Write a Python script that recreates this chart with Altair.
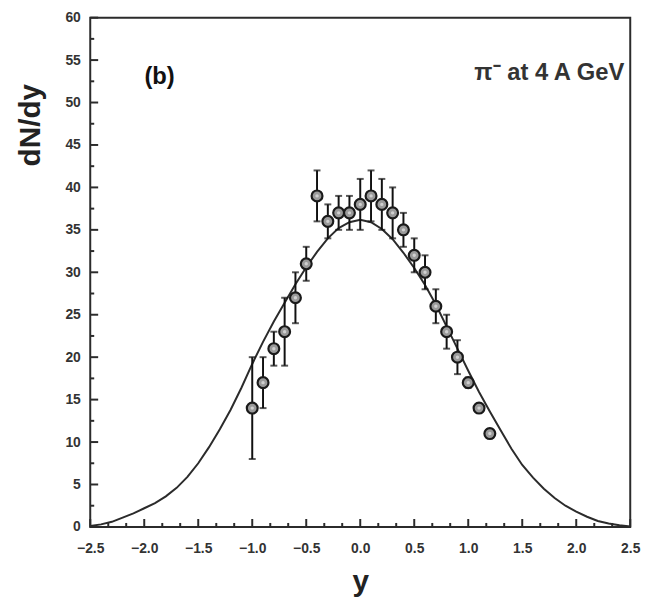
import altair as alt
import pandas as pd

# ---- data ----
data_x = [-1.0, -0.9, -0.8, -0.7, -0.6, -0.5, -0.4, -0.3, -0.2, -0.1, 0.0, 0.1,
          0.2, 0.3, 0.4, 0.5, 0.6, 0.7, 0.8, 0.9, 1.0, 1.1, 1.2]
data_y = [14, 17, 21, 23, 27, 31, 39, 36, 37, 37, 38, 39,
          38, 37, 35, 32, 30, 26, 23, 20, 17, 14, 11]
data_err = [6, 3, 2, 4, 3, 2, 3, 2, 2, 2, 3, 3,
            3, 3, 2, 2, 2, 2, 2, 2, 0.6, 0.5, 0.5]

curve_x = [-2.5, -2.4, -2.3, -2.2, -2.1, -2.0, -1.9, -1.8, -1.7, -1.6, -1.5, -1.4,
           -1.3, -1.2, -1.1, -1.0, -0.9, -0.8, -0.7, -0.6, -0.5, -0.4, -0.3, -0.2,
           -0.1, 0.0, 0.1, 0.2, 0.3, 0.4, 0.5, 0.6, 0.7, 0.8, 0.9, 1.0, 1.1, 1.2,
           1.3, 1.4, 1.5, 1.6, 1.7, 1.8, 1.9, 2.0, 2.1, 2.2, 2.3, 2.4, 2.5]
curve_y = [0.1, 0.3, 0.6, 1.1, 1.6, 2.2, 2.8, 3.6, 4.6, 5.9, 7.5, 9.4,
           11.5, 13.8, 16.4, 19.2, 21.8, 24.2, 26.4, 28.6, 30.6, 32.4, 34.0, 35.2,
           35.9, 36.2, 35.9, 35.1, 33.9, 32.3, 30.5, 28.5, 26.2, 23.6, 21.0, 18.4, 15.9, 13.6,
           11.4, 9.2, 7.3, 5.8, 4.5, 3.4, 2.5, 1.8, 1.2, 0.7, 0.4, 0.2, 0.05]

x_major = [-2.5, -2.0, -1.5, -1.0, -0.5, 0.0, 0.5, 1.0, 1.5, 2.0, 2.5]
x_minor = [-2.333, -2.167, -1.833, -1.667, -1.333, -1.167, -0.833, -0.667,
           -0.333, -0.167, 0.167, 0.333, 0.667, 0.833, 1.167, 1.333,
           1.667, 1.833, 2.167, 2.333]
y_major = [0, 5, 10, 15, 20, 25, 30, 35, 40, 45, 50, 55, 60]
y_minor = [2.5, 7.5, 12.5, 17.5, 22.5, 27.5, 32.5, 37.5, 42.5, 47.5, 52.5, 57.5]

label_b = "(b)"
label_title = "π⁻ at 4 A GeV"

W, H = 545, 514
INK = "#2b2b2b"
FONT = "Liberation Sans"
NARROW = "Liberation Sans Narrow, Liberation Sans"

pts = pd.DataFrame({"x": data_x, "y": data_y, "err": data_err})
pts["lo"] = pts["y"] - pts["err"]
pts["hi"] = pts["y"] + pts["err"]
curve = pd.DataFrame({"x": curve_x, "y": curve_y})

xs = alt.Scale(domain=[-2.5, 2.5], nice=False, zero=False)
ys = alt.Scale(domain=[0, 60], nice=False, zero=False)

xaxis = alt.Axis(values=x_major, format=".1f", ticks=False, domain=False, grid=False,
                 labelFont=NARROW, labelFontSize=14, labelFontWeight="bold", labelColor="#333",
                 labelPadding=15, title="y", titleFont=FONT, titleFontSize=30,
                 titleFontWeight="bold", titleColor="#222", titlePadding=11, labelFlush=False)
yaxis = alt.Axis(values=y_major, ticks=False, domain=False, grid=False,
                 labelFont=NARROW, labelFontSize=14, labelFontWeight="bold", labelColor="#333",
                 labelPadding=10, title="dN/dy", titleFont=FONT, titleFontSize=30,
                 titleFontWeight="bold", titleColor="#222", titlePadding=20, titleY=108)

line = alt.Chart(curve).mark_line(color=INK, strokeWidth=2).encode(
    x=alt.X("x:Q", scale=xs, axis=xaxis),
    y=alt.Y("y:Q", scale=ys, axis=yaxis),
)

bars = alt.Chart(pts).mark_rule(color="#111", strokeWidth=2).encode(
    x=alt.X("x:Q", scale=xs), y=alt.Y("lo:Q", scale=ys), y2="hi:Q")
cap_lo = alt.Chart(pts).mark_tick(color="#111", thickness=2, size=7, orient="horizontal").encode(
    x=alt.X("x:Q", scale=xs), y=alt.Y("lo:Q", scale=ys))
cap_hi = alt.Chart(pts).mark_tick(color="#111", thickness=2, size=7, orient="horizontal").encode(
    x=alt.X("x:Q", scale=xs), y=alt.Y("hi:Q", scale=ys))

points = alt.Chart(pts).mark_point(shape="circle", filled=False, fill="#9a9a9a", fillOpacity=1,
                                   stroke="#1a1a1a", strokeWidth=2.2, size=120, opacity=1).encode(
    x=alt.X("x:Q", scale=xs), y=alt.Y("y:Q", scale=ys))
centers = alt.Chart(pts).mark_point(shape="circle", filled=True, color="#d0d0d0", size=12,
                                    opacity=1).encode(
    x=alt.X("x:Q", scale=xs), y=alt.Y("y:Q", scale=ys))

xt_major = alt.Chart(pd.DataFrame({"t": x_major})).mark_rule(color=INK, strokeWidth=2).encode(
    x=alt.X("t:Q", scale=xs), y=alt.value(H), y2=alt.value(H - 8))
xt_minor = alt.Chart(pd.DataFrame({"t": x_minor})).mark_rule(color=INK, strokeWidth=2).encode(
    x=alt.X("t:Q", scale=xs), y=alt.value(H), y2=alt.value(H - 4))
yt_major = alt.Chart(pd.DataFrame({"t": y_major})).mark_rule(color=INK, strokeWidth=2).encode(
    y=alt.Y("t:Q", scale=ys), x=alt.value(0), x2=alt.value(8))
yt_minor = alt.Chart(pd.DataFrame({"t": y_minor})).mark_rule(color=INK, strokeWidth=2).encode(
    y=alt.Y("t:Q", scale=ys), x=alt.value(0), x2=alt.value(4))

txt_b = alt.Chart(pd.DataFrame({"t": [label_b]})).mark_text(
    font=FONT, fontSize=24, fontWeight="bold", color="#111", align="center", baseline="middle"
).encode(text="t:N", x=alt.value(70), y=alt.value(60))
txt_t = alt.Chart(pd.DataFrame({"t": [label_title]})).mark_text(
    font=FONT, fontSize=24, fontWeight="bold", color="#333", align="right", baseline="middle"
).encode(text="t:N", x=alt.value(539), y=alt.value(56))

chart = alt.layer(
    line, xt_major, xt_minor, yt_major, yt_minor, bars, cap_lo, cap_hi, points, centers, txt_b, txt_t
).properties(
    width=W, height=H,
    autosize=alt.AutoSizeParams(type="none"),
    padding={"left": 83, "top": 7, "right": 26, "bottom": 70},
    background="white",
).configure_view(stroke=INK, strokeWidth=2)

chart.save("out.html", embed_options={"renderer": "svg", "actions": False})
